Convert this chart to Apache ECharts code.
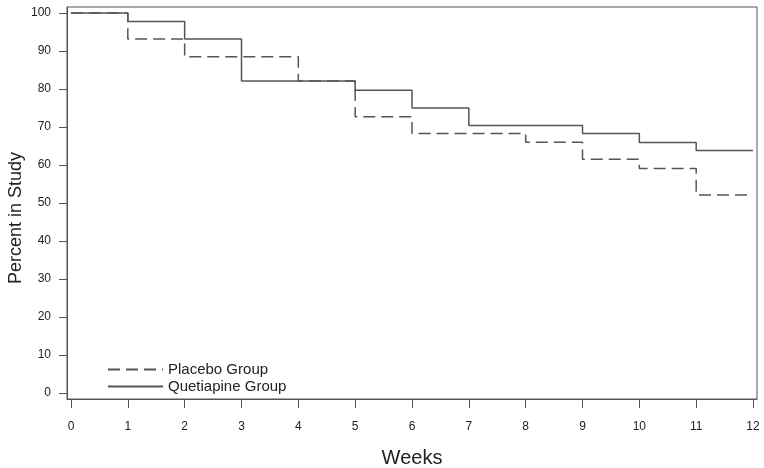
<!DOCTYPE html>
<html>
<head>
<meta charset="utf-8">
<script src="https://cdn.jsdelivr.net/npm/echarts@6/dist/echarts.min.js"></script>
<style>html,body{margin:0;padding:0;background:#fff}#c{width:764px;height:468px}</style>
</head>
<body>
<div id="c"></div>
<script>
const weeks = [0,1,2,3,4,5,6,7,8,9,10,11,12];
const quetiapine = [100,97.8,93.2,82.1,82.1,79.7,75.0,70.4,70.4,68.3,65.9,63.8,63.8];
const placebo = [100,93.2,88.5,88.5,82.1,72.7,68.3,68.3,66.0,61.5,59.1,52.1,52.1];
const yTicks = [0,10,20,30,40,50,60,70,80,90,100];
const seriesNames = ['Placebo Group','Quetiapine Group'];

const font = 'Liberation Sans, Arial, sans-serif';
const gray = '#555';
const chart = echarts.init(document.getElementById('c'));
chart.setOption({
  animation: false,
  backgroundColor: '#fff',
  grid: {left: 67, right: 7, top: 7, bottom: 69, show: true, borderColor: gray, borderWidth: 1,
         containLabel: false, outerBoundsMode: 'none'},
  legend: {
    orient: 'vertical', left: 102, top: 357,
    itemWidth: 55, itemHeight: 14, itemGap: 2,
    itemStyle: {opacity: 0},
    textStyle: {fontFamily: font, fontSize: 15, color: '#222'},
    data: seriesNames
  },
  xAxis: {
    type: 'value', min: -0.07, max: 12.07,
    name: 'Weeks', nameLocation: 'middle', nameGap: 49, nameMoveOverlap: false,
    nameTextStyle: {fontFamily: font, fontSize: 20, color: '#222'},
    axisLine: {onZero: false, lineStyle: {color: gray}},
    axisTick: {show: true, length: 9, customValues: weeks, lineStyle: {color: gray}},
    axisLabel: {customValues: weeks, margin: 22, fontFamily: font, fontSize: 12, color: '#222'},
    splitLine: {show: false}
  },
  yAxis: {
    type: 'value', min: -1.6, max: 101.6,
    name: 'Percent in Study', nameLocation: 'middle', nameGap: 42, nameRotate: 90, nameMoveOverlap: false,
    nameTextStyle: {fontFamily: font, fontSize: 18, color: '#222', padding: [0, 30, 0, 0]},
    axisLine: {show: true, onZero: false, lineStyle: {color: gray}},
    axisTick: {show: true, length: 8, customValues: yTicks, lineStyle: {color: gray}},
    axisLabel: {customValues: yTicks, margin: 16, fontFamily: font, fontSize: 12, color: '#222'},
    splitLine: {show: false}
  },
  series: [
    {
      name: seriesNames[0], type: 'line', step: 'end', symbol: 'none',
      data: weeks.map((w, i) => [w, placebo[i]]),
      lineStyle: {color: gray, width: 1.5, type: [12, 6]},
      itemStyle: {color: gray}
    },
    {
      name: seriesNames[1], type: 'line', step: 'end', symbol: 'none',
      data: weeks.map((w, i) => [w, quetiapine[i]]),
      lineStyle: {color: gray, width: 1.5, type: 'solid'},
      itemStyle: {color: gray}
    }
  ]
});
</script>
</body>
</html>
